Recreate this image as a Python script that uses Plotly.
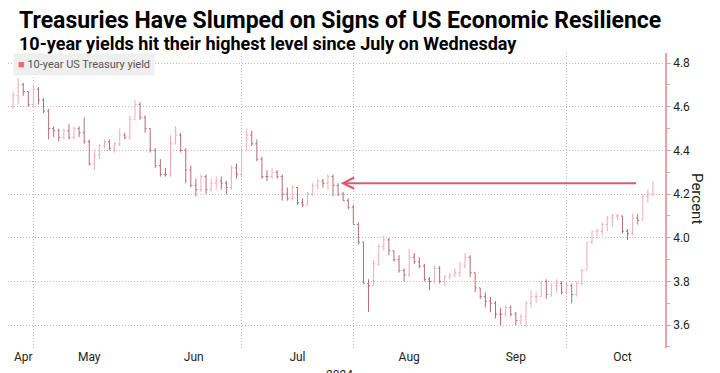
import pandas as pd
import plotly.graph_objects as go

# ---- data -------------------------------------------------------------
holidays = ["2024-05-27", "2024-06-19", "2024-07-04", "2024-09-02"]
dates = pd.bdate_range("2024-04-24", "2024-10-23", freq="C", holidays=holidays)

open_ = [4.60, 4.65, 4.70, 4.67, 4.61,
         4.68, 4.63, 4.58, 4.50, 4.49, 4.46, 4.49, 4.46, 4.50, 4.48, 4.44, 4.34, 4.38, 4.42, 4.44, 4.41, 4.43, 4.47, 4.46, 4.54, 4.61, 4.55,
         4.50, 4.40, 4.33, 4.29, 4.29, 4.43, 4.47, 4.40, 4.31, 4.24, 4.22, 4.28, 4.22, 4.25, 4.26, 4.25, 4.23, 4.32, 4.29,
         4.40, 4.47, 4.43, 4.36, 4.28, 4.28, 4.30, 4.28, 4.20, 4.18, 4.23, 4.16, 4.15, 4.20, 4.24, 4.26, 4.25, 4.28, 4.24, 4.20, 4.17, 4.14,
         4.06, 3.98, 3.79, 3.78, 3.88, 3.96, 3.99, 3.94, 3.90, 3.85, 3.83, 3.91, 3.89, 3.87, 3.81, 3.80, 3.86, 3.80, 3.82, 3.83, 3.84, 3.87,
         3.91, 3.84, 3.77, 3.73, 3.71, 3.70, 3.65, 3.65, 3.68, 3.65, 3.62, 3.64, 3.70, 3.73, 3.73, 3.80, 3.74, 3.78, 3.79, 3.75,
         3.78, 3.74, 3.79, 3.85, 3.98, 4.03, 4.03, 4.06, 4.09, 4.10, 4.10, 4.03, 4.02, 4.09, 4.08, 4.19, 4.20]
high = [4.67, 4.73, 4.71, 4.67, 4.70,
        4.69, 4.64, 4.59, 4.51, 4.50, 4.50, 4.52, 4.51, 4.51, 4.55, 4.45, 4.40, 4.43, 4.45, 4.45, 4.44, 4.50, 4.48, 4.56, 4.63, 4.62, 4.56,
        4.50, 4.41, 4.36, 4.32, 4.47, 4.51, 4.48, 4.41, 4.33, 4.27, 4.29, 4.29, 4.27, 4.28, 4.28, 4.26, 4.33, 4.34, 4.41,
        4.50, 4.49, 4.45, 4.37, 4.31, 4.32, 4.31, 4.29, 4.23, 4.24, 4.23, 4.18, 4.21, 4.25, 4.27, 4.27, 4.29, 4.29, 4.25, 4.21, 4.18, 4.15,
        4.07, 3.98, 3.81, 3.90, 3.97, 4.01, 4.00, 3.94, 3.92, 3.86, 3.95, 3.93, 3.91, 3.88, 3.82, 3.87, 3.87, 3.83, 3.84, 3.86, 3.89, 3.93,
        3.92, 3.84, 3.77, 3.75, 3.73, 3.71, 3.68, 3.69, 3.69, 3.66, 3.65, 3.71, 3.76, 3.75, 3.80, 3.81, 3.79, 3.81, 3.80, 3.80,
        3.79, 3.80, 3.86, 3.98, 4.03, 4.04, 4.07, 4.10, 4.11, 4.11, 4.10, 4.04, 4.11, 4.11, 4.20, 4.22, 4.26]
low = [4.59, 4.61, 4.65, 4.60, 4.60,
       4.61, 4.57, 4.45, 4.46, 4.44, 4.45, 4.45, 4.45, 4.46, 4.43, 4.33, 4.31, 4.36, 4.41, 4.40, 4.39, 4.42, 4.45, 4.45, 4.54, 4.54, 4.48,
       4.39, 4.32, 4.28, 4.28, 4.28, 4.43, 4.39, 4.25, 4.23, 4.19, 4.21, 4.20, 4.21, 4.22, 4.22, 4.20, 4.22, 4.27, 4.28,
       4.40, 4.42, 4.35, 4.27, 4.26, 4.27, 4.27, 4.17, 4.17, 4.17, 4.15, 4.14, 4.15, 4.19, 4.22, 4.23, 4.22, 4.19, 4.19, 4.17, 4.13, 4.06,
       3.97, 3.79, 3.66, 3.78, 3.87, 3.94, 3.92, 3.89, 3.84, 3.80, 3.82, 3.88, 3.86, 3.80, 3.76, 3.79, 3.79, 3.78, 3.81, 3.82, 3.82, 3.86,
       3.82, 3.75, 3.72, 3.68, 3.66, 3.63, 3.60, 3.64, 3.64, 3.60, 3.60, 3.59, 3.68, 3.70, 3.73, 3.72, 3.73, 3.75, 3.74, 3.74,
       3.70, 3.73, 3.78, 3.85, 3.97, 4.00, 4.01, 4.03, 4.05, 4.08, 4.02, 3.99, 4.01, 4.06, 4.08, 4.16, 4.19]
close = [4.65, 4.70, 4.67, 4.61, 4.68,
         4.63, 4.58, 4.50, 4.49, 4.46, 4.49, 4.46, 4.50, 4.48, 4.44, 4.34, 4.38, 4.42, 4.44, 4.41, 4.43, 4.47, 4.46, 4.54, 4.61, 4.55, 4.50,
         4.40, 4.33, 4.29, 4.29, 4.43, 4.47, 4.40, 4.31, 4.24, 4.22, 4.28, 4.22, 4.25, 4.26, 4.25, 4.23, 4.32, 4.29, 4.40,
         4.47, 4.43, 4.36, 4.28, 4.28, 4.30, 4.28, 4.20, 4.18, 4.23, 4.16, 4.15, 4.20, 4.24, 4.26, 4.25, 4.28, 4.24, 4.20, 4.17, 4.14, 4.06,
         3.98, 3.79, 3.78, 3.88, 3.96, 3.99, 3.94, 3.90, 3.85, 3.83, 3.91, 3.89, 3.87, 3.81, 3.80, 3.86, 3.80, 3.82, 3.83, 3.84, 3.87, 3.91,
         3.84, 3.77, 3.73, 3.71, 3.70, 3.65, 3.65, 3.68, 3.65, 3.62, 3.64, 3.70, 3.73, 3.73, 3.80, 3.74, 3.78, 3.79, 3.75, 3.78,
         3.74, 3.79, 3.85, 3.98, 4.03, 4.03, 4.06, 4.09, 4.10, 4.10, 4.03, 4.02, 4.09, 4.08, 4.19, 4.20, 4.20]

month_starts = ["2024-05-01", "2024-06-01", "2024-07-01", "2024-08-01", "2024-09-01", "2024-10-01"]
month_label_pos = ["2024-04-29", "2024-05-16", "2024-06-14 14:00", "2024-07-17", "2024-08-16", "2024-09-17", "2024-10-16"]
month_labels = ["Apr", "May", "Jun", "Jul", "Aug", "Sep", "Oct"]
y_ticks = [3.6, 3.8, 4.0, 4.2, 4.4, 4.6, 4.8]
y_tick_text = ["3.6", "3.8", "4.0", "4.2", "4.4", "4.6", "4.8"]

arrow_level = 4.25
arrow_from = "2024-10-21"
arrow_to = "2024-07-29 12:00"

# ---- figure -----------------------------------------------------------
FONT = "Roboto"
GRID = "#bdbdbd"
AXIS_PINK = "#f0a0aa"
fig = go.Figure()
fig.add_trace(go.Ohlc(
    x=dates, open=open_, high=high, low=low, close=close,
    xperiod=86400000, xperiodalignment="end",
    increasing=dict(line=dict(color="#eeacb6", width=1)),
    decreasing=dict(line=dict(color="#b56c78", width=1)),
    showlegend=False, hoverinfo="skip",
))

# page body has an 8px margin: figure sized to fit the 720x373 window
fig.update_layout(
    width=712, height=365,
    margin=dict(l=0, r=55, t=45, b=25),
    paper_bgcolor="white", plot_bgcolor="white",
    font=dict(family=FONT, color="#222"),
    xaxis=dict(
        type="date",
        range=["2024-04-24", "2024-10-28 09:00"],
        rangebreaks=[dict(bounds=["sat", "mon"]), dict(values=holidays)],
        rangeslider=dict(visible=False),
        tickmode="array", tickvals=month_label_pos, ticktext=month_labels,
        ticks="", showgrid=False, zeroline=False, showline=False,
        tickfont=dict(size=12, color="#222"),
        minor=dict(tickmode="array", tickvals=month_starts, showgrid=True,
                   gridcolor=GRID, griddash="1px,2px", gridwidth=1, ticks=""),
    ),
    yaxis=dict(
        side="right", range=[3.495, 4.846],
        tickmode="array", tickvals=y_ticks, ticktext=y_tick_text,
        ticks="outside", ticklen=4, tickcolor=AXIS_PINK, tickwidth=1,
        showline=True, linecolor=AXIS_PINK, linewidth=1.5,
        showgrid=True, gridcolor=GRID, griddash="1px,2px", gridwidth=1,
        zeroline=False,
        tickfont=dict(size=12, color="#222"),
        minor=dict(dtick=0.1, tick0=3.5, ticks="outside", ticklen=3, tickcolor=AXIS_PINK, showgrid=False),
    ),
)

annotations = [
    dict(text="<b>Treasuries Have Slumped on Signs of US Economic Resilience</b>",
         xref="paper", yref="paper", x=0.0152, y=1.16, xanchor="left", yanchor="top",
         showarrow=False, borderpad=0, font=dict(size=23, color="#000", family=FONT)),
    dict(text="<b>10-year yields hit their highest level since July on Wednesday</b>",
         xref="paper", yref="paper", x=0.0152, y=1.072, xanchor="left", yanchor="top",
         showarrow=False, borderpad=0, font=dict(size=18, color="#000", family=FONT)),
    dict(text="<span style='color:#ea6a74'>■</span> 10-year US Treasury yield",
         xref="paper", yref="paper", x=0.0076, y=1.0, xanchor="left", yanchor="top",
         showarrow=False, bgcolor="#efefef", borderpad=4,
         font=dict(size=11, color="#555", family=FONT)),
    dict(text="Percent", textangle=90, xref="paper", yref="paper", x=1.0487, y=0.505,
         xanchor="center", yanchor="middle", showarrow=False,
         font=dict(size=15, color="#222", family=FONT)),
    dict(text="2024", xref="paper", yref="paper", x=0.505, y=-0.062,
         xanchor="center", yanchor="top", showarrow=False,
         font=dict(size=12, color="#222", family=FONT)),
    dict(x=arrow_to, y=arrow_level, ax=arrow_from, ay=arrow_level,
         xref="x", yref="y", axref="x", ayref="y", text="", showarrow=True,
         arrowhead=5, arrowsize=1.1, arrowwidth=2, arrowcolor="#dc5a74", standoff=0),
]
fig.update_layout(annotations=annotations)

fig.write_html("out.html")
